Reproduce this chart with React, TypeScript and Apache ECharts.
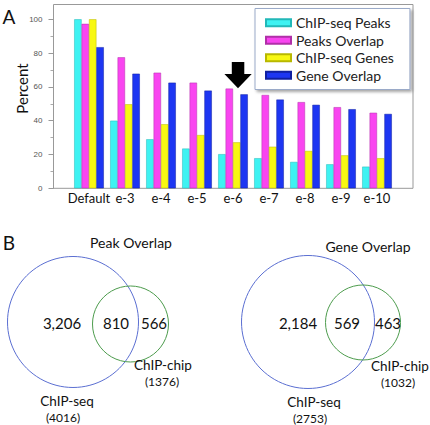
import React, { useEffect, useRef } from "react";
import * as echarts from "echarts";

const categories = ["Default", "e-3", "e-4", "e-5", "e-6", "e-7", "e-8", "e-9", "e-10"];
const seriesNames = ["ChIP-seq Peaks", "Peaks Overlap", "ChIP-seq Genes", "Gene Overlap"];
const chipSeqPeaks = [100, 40, 29, 23.5, 20.2, 17.8, 15.6, 14.2, 12.8];
const peaksOverlap = [97.3, 77.5, 68.4, 62.5, 59, 55.2, 51, 48, 44.7];
const chipSeqGenes = [100, 49.7, 37.9, 31.5, 27.2, 24.6, 22.1, 19.5, 17.8];
const geneOverlap = [83.5, 67.8, 62.5, 57.8, 55.6, 52.5, 49.4, 46.8, 44];
const yTickLabels = [0, 20, 40, 60, 80, 100];

const vennTitles = ["Peak Overlap", "Gene Overlap"];
const seqOnly = [3206, 2184];
const overlapCounts = [810, 569];
const chipOnly = [566, 463];
const seqTotals = [4016, 2753];
const chipTotals = [1376, 1032];

const colors = ["#3ef2f2", "#f945f0", "#f8f812", "#1d36f2"];
const borders = ["#22b8b8", "#b030a8", "#b8b800", "#1020a0"];
const FONT = "Lato";

export default function App() {
  const ref = useRef<HTMLDivElement>(null);
  useEffect(() => {
    if (!ref.current) return;
    const chart = echarts.init(ref.current, null, { renderer: "svg" });
    const data = [chipSeqPeaks, peaksOverlap, chipSeqGenes, geneOverlap];

    const vennLayout = [
      { blue: [73, 322, 65.5], green: [130.5, 324, 38], title: [131, 242], a: [62, 323], b: [116, 323], c: [154, 323], chip: [163, 365], chipN: [162, 381], seq: [67, 401], seqN: [63, 417] },
      { blue: [308, 322, 66.5], green: [363, 322.5, 37.5], title: [368, 246], a: [298, 323], b: [347, 323], c: [388, 323], chip: [400, 366], chipN: [398, 382.5], seq: [314, 402], seqN: [310, 418] },
    ];
    const txt = (x: number, y: number, text: string, size: number) => ({
      type: "text",
      x,
      y,
      style: { text, fill: "#111", font: `${size}px ${FONT}`, align: "center", verticalAlign: "middle" },
    });
    const vennGraphics: any[] = [];
    vennLayout.forEach((L, i) => {
      vennGraphics.push({ type: "circle", shape: { cx: L.blue[0], cy: L.blue[1], r: L.blue[2] }, style: { fill: "none", stroke: "#5b6fd2", lineWidth: 1 } });
      vennGraphics.push({ type: "circle", shape: { cx: L.green[0], cy: L.green[1], r: L.green[2] }, style: { fill: "none", stroke: "#4d9c4d", lineWidth: 1 } });
      vennGraphics.push(txt(L.title[0], L.title[1], vennTitles[i], 14));
      vennGraphics.push(txt(L.a[0], L.a[1], seqOnly[i].toLocaleString("en-US"), 15));
      vennGraphics.push(txt(L.b[0], L.b[1], overlapCounts[i].toLocaleString("en-US"), 15));
      vennGraphics.push(txt(L.c[0], L.c[1], chipOnly[i].toLocaleString("en-US"), 15));
      vennGraphics.push(txt(L.chip[0], L.chip[1], "ChIP-chip", 13.5));
      vennGraphics.push(txt(L.chipN[0], L.chipN[1], `(${chipTotals[i]})`, 12));
      vennGraphics.push(txt(L.seq[0], L.seq[1], "ChIP-seq", 13.5));
      vennGraphics.push(txt(L.seqN[0], L.seqN[1], `(${seqTotals[i]})`, 12));
    });

    chart.setOption({
      animation: false,
      color: colors,
      grid: { left: 71, right: 35, top: 19.3, bottom: 236.7, containLabel: false },
      legend: {
        data: seriesNames,
        orient: "vertical",
        left: 255,
        top: 8.5,
        padding: [6, 16, 6, 10],
        itemWidth: 25,
        itemHeight: 7,
        itemGap: 1,
        icon: "rect",
        backgroundColor: "#fff",
        borderColor: "#9aaac8",
        borderWidth: 1,
        shadowColor: "rgba(0,0,0,0.35)",
        shadowBlur: 3,
        shadowOffsetX: 2,
        shadowOffsetY: 2,
        textStyle: { fontFamily: FONT, fontSize: 14, color: "#222", lineHeight: 16.5 },
      },
      xAxis: {
        type: "category",
        data: categories,
        axisLine: { show: false },
        axisTick: { show: false },
        axisLabel: { interval: 0, fontFamily: FONT, fontSize: 13, color: "#111", margin: 3 },
      },
      yAxis: {
        type: "value",
        min: 0,
        max: 100,
        interval: 20,
        offset: 17.5,
        axisLine: { show: true, lineStyle: { color: "#999" } },
        axisTick: { show: true, length: 5, lineStyle: { color: "#999" } },
        minorTick: { show: true, splitNumber: 2, length: 3, lineStyle: { color: "#aaa" } },
        splitLine: { show: false },
        axisLabel: {
          fontFamily: "Liberation Sans",
          fontSize: 8,
          color: "#555",
          margin: 11,
          formatter: (v: number) => (yTickLabels.includes(v) ? String(v) : ""),
        },
      },
      series: seriesNames.map((name, i) => ({
        name,
        type: "bar",
        data: data[i],
        barWidth: 7.4,
        barGap: "0%",
        itemStyle: { color: colors[i], borderColor: borders[i], borderWidth: 0.5 },
      })),
      graphic: [
        { type: "rect", shape: { x: 53.5, y: 4.5, width: 359.5, height: 183.8 }, style: { fill: "none", stroke: "#999", lineWidth: 1 }, z: 1 },
        {
          type: "polygon",
          shape: { points: [[231.8, 62], [244.3, 62], [244.3, 74], [251.7, 74], [238, 88.3], [224.4, 74], [231.8, 74]] },
          style: { fill: "#000" },
        },
        { type: "text", x: 9, y: 16, style: { text: "A", fill: "#111", font: `19px ${FONT}`, align: "center", verticalAlign: "middle" } },
        { type: "text", x: 9, y: 242, style: { text: "B", fill: "#111", font: `19px ${FONT}`, align: "center", verticalAlign: "middle" } },
        { type: "text", x: 22, y: 88.5, rotation: Math.PI / 2, style: { text: "Percent", fill: "#111", font: `15px ${FONT}`, align: "center", verticalAlign: "middle" } },
        ...vennGraphics,
      ],
    });
    return () => chart.dispose();
  }, []);
  return <div ref={ref} style={{ position: "fixed", left: 0, top: 0, width: 430, height: 425, background: "#fff" }} />;
}
